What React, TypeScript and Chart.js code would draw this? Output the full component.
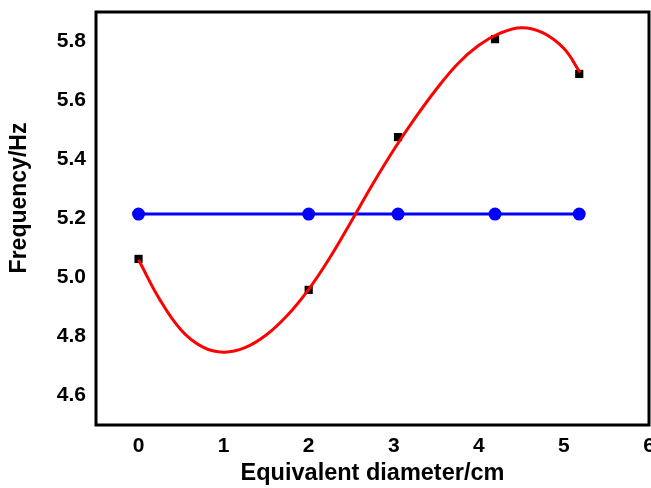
import React, { useEffect, useRef } from "react";
import { Chart, registerables } from "chart.js";

Chart.register(...registerables);

const pointX = [0, 2, 3.05, 4.19, 5.18];
const measuredY = [5.063, 4.958, 5.476, 5.808, 5.69];
const constantY = [5.215, 5.215, 5.215, 5.215, 5.215];

const fitX = [0, 0.25, 0.5, 0.75, 1.0, 1.25, 1.5, 1.75, 2.0, 2.25, 2.5, 2.75, 3.0, 3.25, 3.5, 3.75, 4.0, 4.25, 4.5, 4.75, 5.0, 5.19];
const fitY = [5.06, 4.925, 4.822, 4.765, 4.747, 4.762, 4.805, 4.872, 4.96, 5.068, 5.19, 5.315, 5.433, 5.54, 5.638, 5.724, 5.787, 5.828, 5.847, 5.83, 5.776, 5.695];

const xTicks = [0, 1, 2, 3, 4, 5, 6];
const yTicks = [4.6, 4.8, 5.0, 5.2, 5.4, 5.6, 5.8];

const xTitle = "Equivalent diameter/cm";
const yTitle = "Frequency/Hz";

const FONT = "'Liberation Sans', Arial, sans-serif";

const framePlugin = {
  id: "frame",
  afterDatasetsDraw(chart: any) {
    const { ctx, chartArea } = chart;
    ctx.save();
    ctx.strokeStyle = "#000";
    ctx.lineWidth = 3;
    ctx.strokeRect(chartArea.left, chartArea.top, chartArea.right - chartArea.left, chartArea.bottom - chartArea.top);
    ctx.restore();
  },
  afterDraw(chart: any) {
    const { ctx } = chart;
    ctx.save();
    ctx.translate(20, 198);
    ctx.rotate(-Math.PI / 2);
    ctx.font = `bold 23px ${FONT}`;
    ctx.fillStyle = "#000";
    ctx.textAlign = "center";
    ctx.textBaseline = "middle";
    ctx.fillText(yTitle, 0, 0);
    ctx.restore();
  },
};

export default function App() {
  const ref = useRef<HTMLCanvasElement>(null);
  useEffect(() => {
    document.body.style.margin = "0";
    const chart = new Chart(ref.current as HTMLCanvasElement, {
      type: "scatter",
      data: {
        datasets: [
          {
            label: "fit",
            data: fitX.map((x, i) => ({ x, y: fitY[i] })),
            showLine: true,
            borderColor: "#ff0000",
            borderWidth: 3,
            pointRadius: 0,
            tension: 0.4,
            order: 0,
          } as any,
          {
            label: "measured",
            data: pointX.map((x, i) => ({ x, y: measuredY[i] })),
            showLine: false,
            pointStyle: "rect",
            pointRadius: 5.8,
            backgroundColor: "#000",
            borderColor: "#000",
            borderWidth: 0,
            order: 1,
          },
          {
            label: "constant",
            data: pointX.map((x, i) => ({ x, y: constantY[i] })),
            showLine: true,
            borderColor: "#0000ff",
            backgroundColor: "#0000ff",
            borderWidth: 3,
            pointRadius: 5,
            pointStyle: "circle",
            order: 2,
          },
        ],
      },
      options: {
        animation: false,
        responsive: false,
        devicePixelRatio: 1,
        layout: { autoPadding: false, padding: { top: 12, right: 2, left: 0, bottom: 0 } },
        plugins: { legend: { display: false }, tooltip: { enabled: false } },
        scales: {
          x: {
            type: "linear",
            min: -0.5,
            max: 6,
            grid: { display: false, drawTicks: false },
            border: { display: false },
            afterBuildTicks: (s: any) => {
              s.ticks = xTicks.map((v) => ({ value: v }));
            },
            afterFit: (s: any) => {
              s.height = 63;
              s.paddingRight = 0;
              s.paddingLeft = 0;
            },
            ticks: {
              padding: 9,
              color: "#000",
              font: { family: FONT, size: 21, weight: "bold" },
              maxRotation: 0,
              callback: (v: any) => String(v),
            },
            title: {
              display: true,
              text: xTitle,
              color: "#000",
              font: { family: FONT, size: 23.5, weight: "bold" },
              padding: { top: 0, bottom: 0 },
            },
          },
          y: {
            type: "linear",
            min: 4.5,
            max: 5.9,
            grid: { display: false, drawTicks: false },
            border: { display: false },
            afterBuildTicks: (s: any) => {
              s.ticks = yTicks.map((v) => ({ value: v }));
            },
            afterFit: (s: any) => {
              s.width = 96;
              s.paddingTop = 0;
              s.paddingBottom = 0;
            },
            ticks: {
              padding: 10,
              color: "#000",
              font: { family: FONT, size: 21, weight: "bold" },
              callback: (v: any) => Number(v).toFixed(1),
            },
          },
        },
      },
      plugins: [framePlugin],
    });
    return () => chart.destroy();
  }, []);
  return <canvas ref={ref} width={651} height={488} style={{ display: "block" }} />;
}
